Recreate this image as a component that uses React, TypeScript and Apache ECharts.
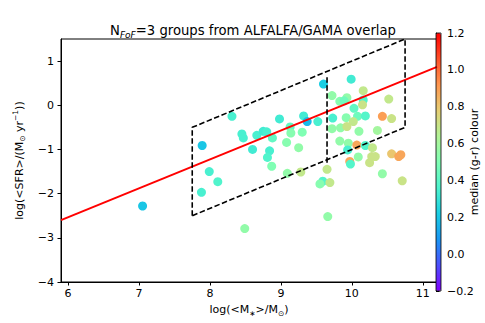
import React, { useEffect, useRef } from "react";
import * as echarts from "echarts";

// Data
const massX = [8.31,7.89,8.45,8.47,8.66,8.75,8.80,8.60,7.99,8.11,7.88,7.05,8.49,9.60,9.72,8.98,9.32,9.37,9.52,9.73,9.72,9.13,9.14,9.30,8.88,9.08,9.25,8.84,8.81,8.87,9.09,9.28,9.65,9.59,9.55,9.69,9.66,9.99,10.16,9.93,9.83,9.89,10.16,10.15,10.52,10.03,9.92,10.08,10.19,10.02,10.43,10.56,9.84,9.93,10.10,10.36,9.83,9.95,10.07,10.19,9.94,10.29,10.09,9.97,9.98,10.28,10.33,10.25,10.56,10.66,10.69,10.43,10.71];
const sfrY = [-0.25,-0.91,-0.65,-0.74,-0.68,-0.59,-0.60,-1.00,-1.50,-1.73,-1.97,-2.28,-2.79,0.48,0.22,-0.31,-0.24,-0.37,-0.37,-0.29,-0.53,-0.49,-0.63,-0.61,-0.74,-0.84,-0.96,-1.03,-1.18,-1.38,-1.54,-1.51,-1.45,-1.72,-1.78,-1.75,-2.52,0.59,0.33,0.17,0.09,0.10,0.12,0.01,0.14,-0.07,-0.28,-0.25,-0.24,-0.37,-0.25,-0.30,-0.51,-0.48,-0.59,-0.57,-0.81,-0.86,-0.90,-0.91,-1.01,-0.96,-1.17,-1.27,-1.33,-1.16,-1.16,-1.30,-1.10,-1.16,-1.12,-1.55,-1.71];
const colourGR = [0.35,0.2,0.35,0.35,0.35,0.33,0.35,0.33,0.35,0.37,0.35,0.2,0.55,0.22,0.55,0.33,0.33,0.17,0.35,0.35,0.55,0.42,0.52,0.5,0.42,0.52,0.55,0.35,0.37,0.5,0.55,0.68,0.68,0.38,0.52,0.68,0.55,0.33,0.68,0.55,0.52,0.45,0.38,0.7,0.68,0.42,0.52,0.45,0.38,0.68,0.9,0.7,0.55,0.7,0.55,0.6,0.55,0.55,0.88,0.38,0.35,0.68,0.55,0.88,0.38,0.7,0.7,0.7,0.8,0.88,0.88,0.55,0.7];

const fitLineX = [5.9, 11.2];
const fitLineY = [-2.60, 0.87];
const boxX = [7.75, 7.75, 10.75, 10.75, 7.75];
const boxY = [-2.5, -0.5, 1.5, -0.5, -2.5];
const cutX = [9.65, 9.65];
const cutY = [-1.3, 0.67];

const xTicks = [6, 7, 8, 9, 10, 11];
const yTicks = [-4, -3, -2, -1, 0, 1];

const rainbow = ["#8000ff","#4d4ffc","#1a96f3","#1acee3","#4df3ce","#80ffb4","#b3f396","#e6ce74","#ff964f","#ff4f28","#ff0000"];

const FONT = "DejaVu Sans";
const FS = 11;
const minus = (v: number | string) => String(v).replace("-", "\u2212");

export default function App() {
  const ref = useRef<HTMLDivElement>(null);
  useEffect(() => {
    if (!ref.current) return;
    const chart = echarts.init(ref.current, undefined, { renderer: "svg" });
    const pts = massX.map((x, i) => [x, sfrY[i], colourGR[i]]);
    const zip = (a: number[], b: number[]) => a.map((v, i) => [v, b[i]]);
    const rich = {
      n: { fontSize: FS, fontFamily: FONT, color: "#000", fontWeight: "normal" as const },
      s: { fontSize: 7.5, fontFamily: FONT, color: "#000", fontWeight: "normal" as const, verticalAlign: "bottom" as const, lineHeight: 15 },
      p: { fontSize: 7.5, fontFamily: FONT, color: "#000", fontWeight: "normal" as const, verticalAlign: "top" as const, lineHeight: 15 },
    };
    chart.setOption({
      animation: false,
      backgroundColor: "#fff",
      title: {
        text: "{n|N}{s|FoF}{n|=3 groups from ALFALFA/GAMA overlap}",
        left: 248,
        top: 17,
        textAlign: "center",
        textStyle: {
          fontWeight: "normal",
          fontFamily: FONT,
          rich: {
            n: { fontSize: 13.2, fontFamily: FONT, color: "#000", fontWeight: "normal" },
            s: { fontSize: 9, fontFamily: FONT, fontStyle: "italic", fontWeight: "normal", color: "#000", verticalAlign: "bottom", lineHeight: 17 },
          },
        },
      },
      grid: [
        { left: 61, top: 39, width: 376, height: 243, show: true, borderColor: "#000", borderWidth: 1, backgroundColor: "transparent" },
        { left: 436, top: 33, width: 5, height: 258, show: true, borderColor: "#000", borderWidth: 0.8, backgroundColor: "transparent", z: 10 },
      ],
      xAxis: [
        {
          type: "value", gridIndex: 0, min: 5.9, max: 11.2,
          axisLine: { show: true, onZero: false, lineStyle: { color: "#000", width: 1 } },
          axisTick: { show: true, customValues: xTicks, length: 3.5, lineStyle: { color: "#000" } },
          axisLabel: { customValues: xTicks, fontSize: FS, fontFamily: FONT, color: "#000", margin: 6, formatter: (v: number) => minus(v) },
          splitLine: { show: false },
          name: "{n|log(<M}{s|\u2217}{n|>/M}{s|\u2299}{n|)}",
          nameLocation: "middle", nameGap: 20,
          nameTextStyle: { rich },
        },
        { type: "value", gridIndex: 1, show: false, min: 0, max: 1 },
      ],
      yAxis: [
        {
          type: "value", gridIndex: 0, min: -4, max: 1.5,
          axisLine: { show: true, onZero: false, lineStyle: { color: "#000", width: 1 } },
          axisTick: { show: true, customValues: yTicks, length: 3.5, lineStyle: { color: "#000" } },
          axisLabel: { customValues: yTicks, fontSize: FS, fontFamily: FONT, color: "#000", margin: 7, formatter: (v: number) => minus(v) },
          splitLine: { show: false },
          name: "{n|log(<SFR>/(M}{s|\u2299}{n| yr}{p|\u22121}{n|))}",
          nameLocation: "middle", nameGap: 30, nameRotate: 90,
          nameTextStyle: { rich },
        },
        {
          type: "value", gridIndex: 1, min: -0.2, max: 1.2, interval: 0.2, position: "right",
          axisLine: { show: true, lineStyle: { color: "#000", width: 0.8 } },
          axisTick: { show: true, length: 3.5, lineStyle: { color: "#000" } },
          axisLabel: { fontSize: FS, fontFamily: FONT, color: "#000", margin: 6, formatter: (v: number) => minus(v.toFixed(1)) },
          splitLine: { show: false },
          name: "median (g-r) colour",
          nameLocation: "middle", nameGap: 28, nameRotate: 90, nameMoveOverlap: false,
          nameTextStyle: { fontSize: FS, fontFamily: FONT, color: "#000" },
        },
      ],
      visualMap: {
        type: "continuous",
        min: -0.2, max: 1.2, dimension: 2, seriesIndex: 0,
        inRange: { color: rainbow },
        show: true, calculable: false, hoverLink: false,
        left: 436, top: 33, padding: 0, itemWidth: 5, itemHeight: 258,
        text: null,
      },
      series: [
        {
          type: "scatter", xAxisIndex: 0, yAxisIndex: 0, data: pts, symbolSize: 9, z: 2,
          itemStyle: { opacity: 1 },
        },
        {
          type: "line", data: zip(fitLineX, fitLineY), showSymbol: false, symbol: "none", z: 4,
          lineStyle: { color: "#ff0000", width: 2 }, silent: true,
        },
        {
          type: "line", data: zip(boxX, boxY), showSymbol: false, symbol: "none", z: 4,
          lineStyle: { color: "#000", width: 1.6, type: [5.5, 2.5] }, silent: true,
        },
        {
          type: "line", data: zip(cutX, cutY), showSymbol: false, symbol: "none", z: 4,
          lineStyle: { color: "#000", width: 1.6, type: [5.5, 2.5] }, silent: true,
        },
      ],
    });
    return () => chart.dispose();
  }, []);
  return <div ref={ref} style={{ width: 485, height: 323, position: "absolute", left: 0, top: 0 }} />;
}
